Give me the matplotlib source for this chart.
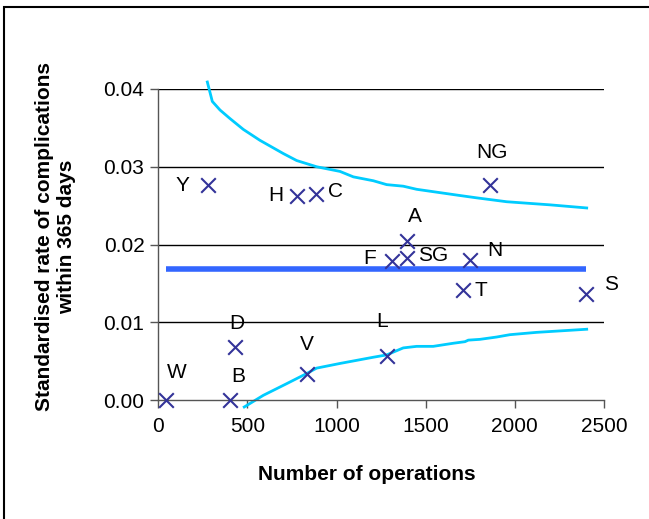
import matplotlib
matplotlib.use("Agg")
import matplotlib.pyplot as plt
from matplotlib.patches import Rectangle

plt.rcParams['font.family'] = ['Liberation Sans', 'DejaVu Sans']

# hospitals: name, number of operations, standardised rate
names = ["W", "B", "D", "Y", "V", "H", "C", "L", "F", "SG", "A", "T", "N", "NG", "S"]
n_ops = [43, 402, 430, 280, 832, 776, 883, 1281, 1309, 1397, 1397, 1711, 1748, 1860, 2399]
rates = [0.0, 0.0, 0.0068, 0.0276, 0.0034, 0.0263, 0.0265, 0.0056, 0.0179, 0.0182, 0.0204,
         0.0141, 0.0180, 0.0276, 0.0136]
# label offsets (pixels) from each marker
label_dx = [11, 8, 2, -26, 0, -21, 20, -5, -22, 26, 8, 18, 25, 2, 25]
label_dy = [27, 23, 24, 0, 29, 0, 2, 35, 2, 3, 25, 0, 10, 33, 10]

mean_rate = 0.0169

# control limits
upper_x = [275, 303, 346, 402, 477, 570, 701, 776, 888, 1019, 1094, 1206, 1281, 1374,
           1449, 1692, 1786, 1954, 2197, 2403]
upper_y = [0.0409, 0.0384, 0.0373, 0.0362, 0.0348, 0.0334, 0.0317, 0.0308, 0.0300, 0.0294,
           0.0287, 0.0282, 0.0277, 0.0275, 0.0271, 0.0263, 0.0260, 0.0255, 0.0251, 0.0247]
lower_x = [482, 589, 720, 832, 888, 1019, 1206, 1281, 1374, 1449, 1542, 1655, 1720, 1739,
           1804, 1898, 1972, 2122, 2403]
lower_y = [-0.0009, 0.0006, 0.0021, 0.0034, 0.0041, 0.0047, 0.0055, 0.0058, 0.0067, 0.0069,
           0.0069, 0.0073, 0.0075, 0.0077, 0.0078, 0.0081, 0.0084, 0.0087, 0.0091]

fig = plt.figure(figsize=(6.49, 5.19), dpi=100)
fig.patches.append(Rectangle((4 / 649, -0.01), 1.0, 1 - 7 / 519 + 0.01, transform=fig.transFigure,
                             fill=False, edgecolor='black', linewidth=1.5))
ax = fig.add_axes([158.3 / 649, 1 - 400 / 519, (604 - 158.3) / 649, (400 - 89) / 519])

ax.set_xlim(0, 2500)
ax.set_ylim(0, 0.04)
ax.set_xticks([0, 500, 1000, 1500, 2000, 2500])
ax.set_yticks([0.0, 0.01, 0.02, 0.03, 0.04])
ax.set_yticklabels(["0.00", "0.01", "0.02", "0.03", "0.04"])
for y in [0.01, 0.02, 0.03, 0.04]:
    ax.axhline(y, color='black', linewidth=1, zorder=1)

for s in ['top', 'right']:
    ax.spines[s].set_visible(False)
for s in ['left', 'bottom']:
    ax.spines[s].set_color('#555555')
    ax.spines[s].set_linewidth(1)
ax.tick_params(axis='both', labelsize=15, length=6, color='#555555', width=1)
ax.tick_params(axis='y', pad=4)
ax.tick_params(axis='x', pad=6)

ax.plot(upper_x, upper_y, color='#00CCFF', linewidth=2, clip_on=False, zorder=2)
ax.plot(lower_x, lower_y, color='#00CCFF', linewidth=2, clip_on=False, zorder=2)
ax.plot([n_ops[0], n_ops[-1]], [mean_rate, mean_rate], color='#3366FF', linewidth=4,
        solid_capstyle='butt', zorder=2)
ax.scatter(n_ops, rates, marker='x', s=110, color='#333399', linewidths=1.5, zorder=3, clip_on=False)

for name, x, y, dx, dy in zip(names, n_ops, rates, label_dx, label_dy):
    ax.annotate(name, (x, y), xytext=(dx, dy), textcoords='offset pixels',
                ha='center', va='center', fontsize=15, color='black')

fig.text(367 / 649, 1 - 475 / 519, "Number of operations", ha='center', va='center',
         fontsize=15, fontweight='bold')
fig.text(56 / 649, 1 - 237 / 519, "Standardised rate of complications\nwithin 365 days",
         ha='center', va='center', rotation=90, fontsize=15, fontweight='bold',
         linespacing=1.2, multialignment='center')

fig.savefig("out.png", dpi=100)
